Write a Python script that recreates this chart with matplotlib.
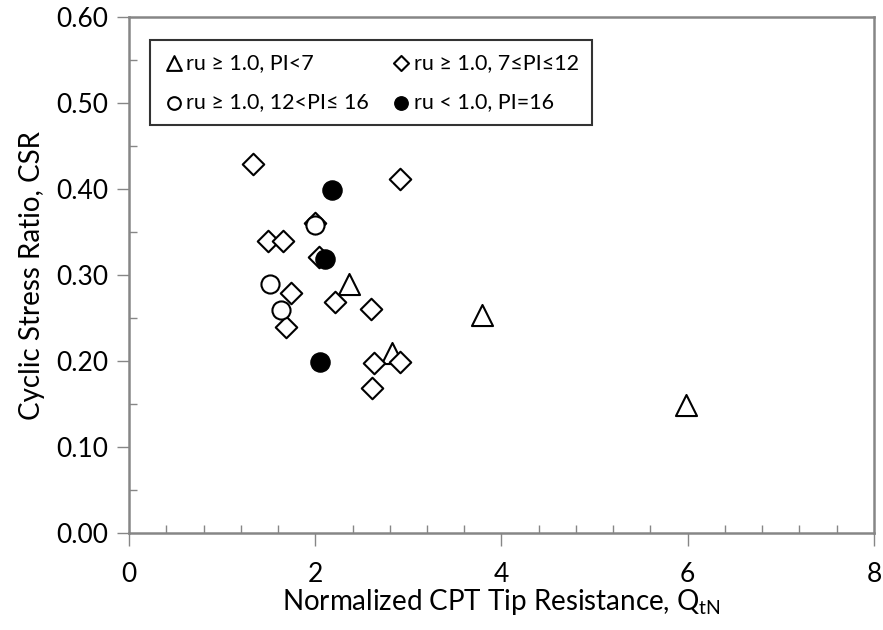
#!/usr/bin/env python3
"""Cyclic stress ratio vs normalized CPT tip resistance scatter."""

import matplotlib
matplotlib.use('Agg')
import matplotlib.pyplot as plt
from matplotlib.ticker import MultipleLocator, FormatStrFormatter

plt.rcParams['font.family'] = ['Lato', 'DejaVu Sans']

# ru >= 1.0, PI < 7 (open triangles)
tri_x = [2.36, 2.82, 3.79, 5.98]
tri_y = [0.289, 0.209, 0.253, 0.149]

# ru >= 1.0, 7 <= PI <= 12 (open diamonds)
dia_x = [1.33, 2.91, 2.00, 1.49, 1.65, 2.04, 1.74, 2.21, 2.60, 1.69, 2.63, 2.91, 2.61]
dia_y = [0.429, 0.412, 0.360, 0.340, 0.340, 0.321, 0.279, 0.269, 0.260, 0.239, 0.198, 0.199, 0.169]

# ru >= 1.0, 12 < PI <= 16 (open circles)
circ_x = [1.51, 1.63, 2.00]
circ_y = [0.289, 0.259, 0.358]

# ru < 1.0, PI = 16 (filled circles)
fill_x = [2.18, 2.11, 2.05]
fill_y = [0.399, 0.319, 0.199]

grey = '#868686'

fig = plt.figure(figsize=(8.83, 6.30), dpi=100)
ax = fig.add_axes([129 / 883, 1 - 533 / 630, 745 / 883, 516 / 630])

h_tri = ax.scatter(tri_x, tri_y, marker='^', s=230, facecolors='white',
                   edgecolors='black', linewidths=1.5, zorder=3)
h_dia = ax.scatter(dia_x, dia_y, marker='D', s=120, facecolors='white',
                   edgecolors='black', linewidths=1.5, zorder=3)
h_circ = ax.scatter(circ_x, circ_y, marker='o', s=170, facecolors='white',
                    edgecolors='black', linewidths=1.5, zorder=3)
h_fill = ax.scatter(fill_x, fill_y, marker='o', s=190, facecolors='black',
                    edgecolors='black', linewidths=1.0, zorder=4)

ax.set_xlim(0, 8)
ax.set_ylim(0, 0.6)
ax.xaxis.set_major_locator(MultipleLocator(2))
ax.xaxis.set_minor_locator(MultipleLocator(0.4))
ax.yaxis.set_major_locator(MultipleLocator(0.1))
ax.yaxis.set_minor_locator(MultipleLocator(0.05))
ax.yaxis.set_major_formatter(FormatStrFormatter('%.2f'))

for spine in ax.spines.values():
    spine.set_color(grey)
    spine.set_linewidth(1.8)

ax.tick_params(which='major', direction='out', length=9, width=1.0,
               color=grey, labelsize=19)
ax.tick_params(axis='x', which='major', pad=12)
ax.tick_params(axis='y', which='major', pad=6)
ax.tick_params(which='minor', direction='in', length=6, width=1.0, color=grey)

ax.set_xlabel('Normalized CPT Tip Resistance, Q$_{\\mathregular{tN}}$',
              fontsize=20, labelpad=0)
ax.set_ylabel('Cyclic Stress Ratio, CSR', fontsize=20, labelpad=8)

leg = ax.legend([h_tri, h_circ, h_dia, h_fill],
                ['ru \u2265 1.0, PI<7', 'ru \u2265 1.0, 12<PI\u2264 16',
                 'ru \u2265 1.0, 7\u2264PI\u226412', 'ru < 1.0, PI=16'],
                ncol=2, loc='upper left', bbox_to_anchor=(0.028, 0.955),
                fontsize=15.5, frameon=True, fancybox=False, edgecolor='black',
                handletextpad=0.1, columnspacing=1.0, labelspacing=0.9,
                borderpad=0.6, markerscale=0.7, handlelength=1.0,
                borderaxespad=0)
leg.get_frame().set_linewidth(1.5)

fig.savefig('out.png', dpi=100)
